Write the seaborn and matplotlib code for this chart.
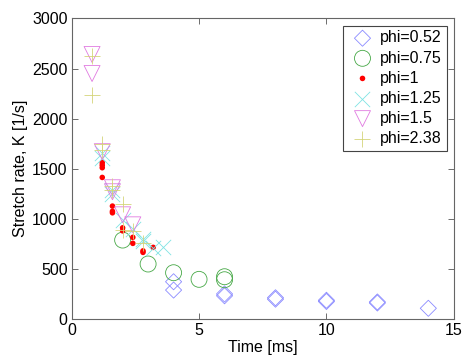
import matplotlib
matplotlib.use("Agg")
import matplotlib.pyplot as plt
import seaborn as sns
import pandas as pd

# time [ms] and stretch rate K [1/s] for each equivalence ratio
phi052_t = [4, 4, 6, 6, 8, 8, 10, 10, 12, 12, 14]
phi052_k = [372, 289, 250, 232, 212, 198, 187, 175, 170, 160, 107]

phi075_t = [2, 3, 4, 5, 6, 6]
phi075_k = [788, 549, 462, 396, 422, 392]

phi1_t = [1.2, 1.2, 1.2, 1.2, 1.6, 1.6, 1.6, 2.0, 2.0, 2.4, 2.4, 2.8, 2.8, 3.2]
phi1_k = [1560, 1535, 1510, 1413, 1127, 1075, 1060, 910, 880, 815, 755, 680, 665, 715]

phi125_t = [1.2, 1.2, 1.6, 1.6, 2.0, 2.4, 2.8, 2.8, 3.2, 3.6]
phi125_k = [1660, 1610, 1290, 1250, 990, 900, 800, 780, 705, 720]

phi15_t = [0.8, 0.8, 1.2, 1.6, 1.6, 2.0, 2.4]
phi15_k = [2640, 2450, 1670, 1310, 1270, 1040, 940]

phi238_t = [0.8, 0.8, 1.2, 1.2, 1.6, 1.6, 2.0, 2.0, 2.4, 2.8]
phi238_k = [2620, 2240, 1750, 1690, 1330, 1290, 1150, 890, 880, 760]

labels = ["phi=0.52", "phi=0.75", "phi=1", "phi=1.25", "phi=1.5", "phi=2.38"]
times = [phi052_t, phi075_t, phi1_t, phi125_t, phi15_t, phi238_t]
rates = [phi052_k, phi075_k, phi1_k, phi125_k, phi15_k, phi238_k]

sns.set_style("ticks")
plt.rcParams['font.family'] = ['Liberation Sans', 'DejaVu Sans']
plt.rcParams['font.size'] = 11.5
plt.rcParams['text.color'] = 'black'
plt.rcParams['axes.labelcolor'] = 'black'
plt.rcParams['xtick.labelcolor'] = 'black'
plt.rcParams['ytick.labelcolor'] = 'black'

fig = plt.figure(figsize=(4.64, 3.61), dpi=100)
ax = fig.add_axes([0.1545, 0.1163, 0.8235, 0.8327])

# marker style per series: (marker, size, color, hollow)
styles = [
    ("D", 8.2, "#8a8aff", True),
    ("o", 11.5, "#46a846", True),
    (".", 9, "#ff0000", False),
    ("x", 11, "#7fe3e3", False),
    ("v", 11.5, "#e07ae0", True),
    ("+", 12, "#d4d47a", False),
]

for lab, t, k, (m, ms, c, hollow) in zip(labels, times, rates, styles):
    df = pd.DataFrame({"t": t, "k": k})
    if hollow:
        sns.scatterplot(data=df, x="t", y="k", marker=m, s=ms ** 2,
                        facecolor="none", edgecolor=c, linewidth=0.6,
                        label=lab, ax=ax)
    elif m == ".":
        sns.scatterplot(data=df, x="t", y="k", marker="o", s=16,
                        color=c, edgecolor="none", label=lab, ax=ax)
    else:
        sns.scatterplot(data=df, x="t", y="k", marker=m, s=ms ** 2,
                        color=c, linewidth=0.6, label=lab, ax=ax)

ax.set_xlim(0, 15)
ax.set_ylim(0, 3000)
ax.set_xticks([0, 5, 10, 15])
ax.set_yticks(range(0, 3001, 500))
ax.set_xlabel("Time [ms]", labelpad=1)
ax.set_ylabel("Stretch rate, K [1/s]", labelpad=3)
ax.tick_params(direction="in", top=True, right=True, length=4, width=0.6,
               color="#555555", labelsize=11.5, pad=3)
for sp in ax.spines.values():
    sp.set_visible(True)
    sp.set_color("#666666")
    sp.set_linewidth(0.8)

leg = ax.legend(loc="upper right", frameon=True, fancybox=False,
                edgecolor="#444444", framealpha=1, borderpad=0.3,
                labelspacing=0.32, handletextpad=0.2, handlelength=1.8,
                borderaxespad=0.45, fontsize=11.5)
leg.get_frame().set_linewidth(0.8)

fig.savefig("out.png", dpi=100)
